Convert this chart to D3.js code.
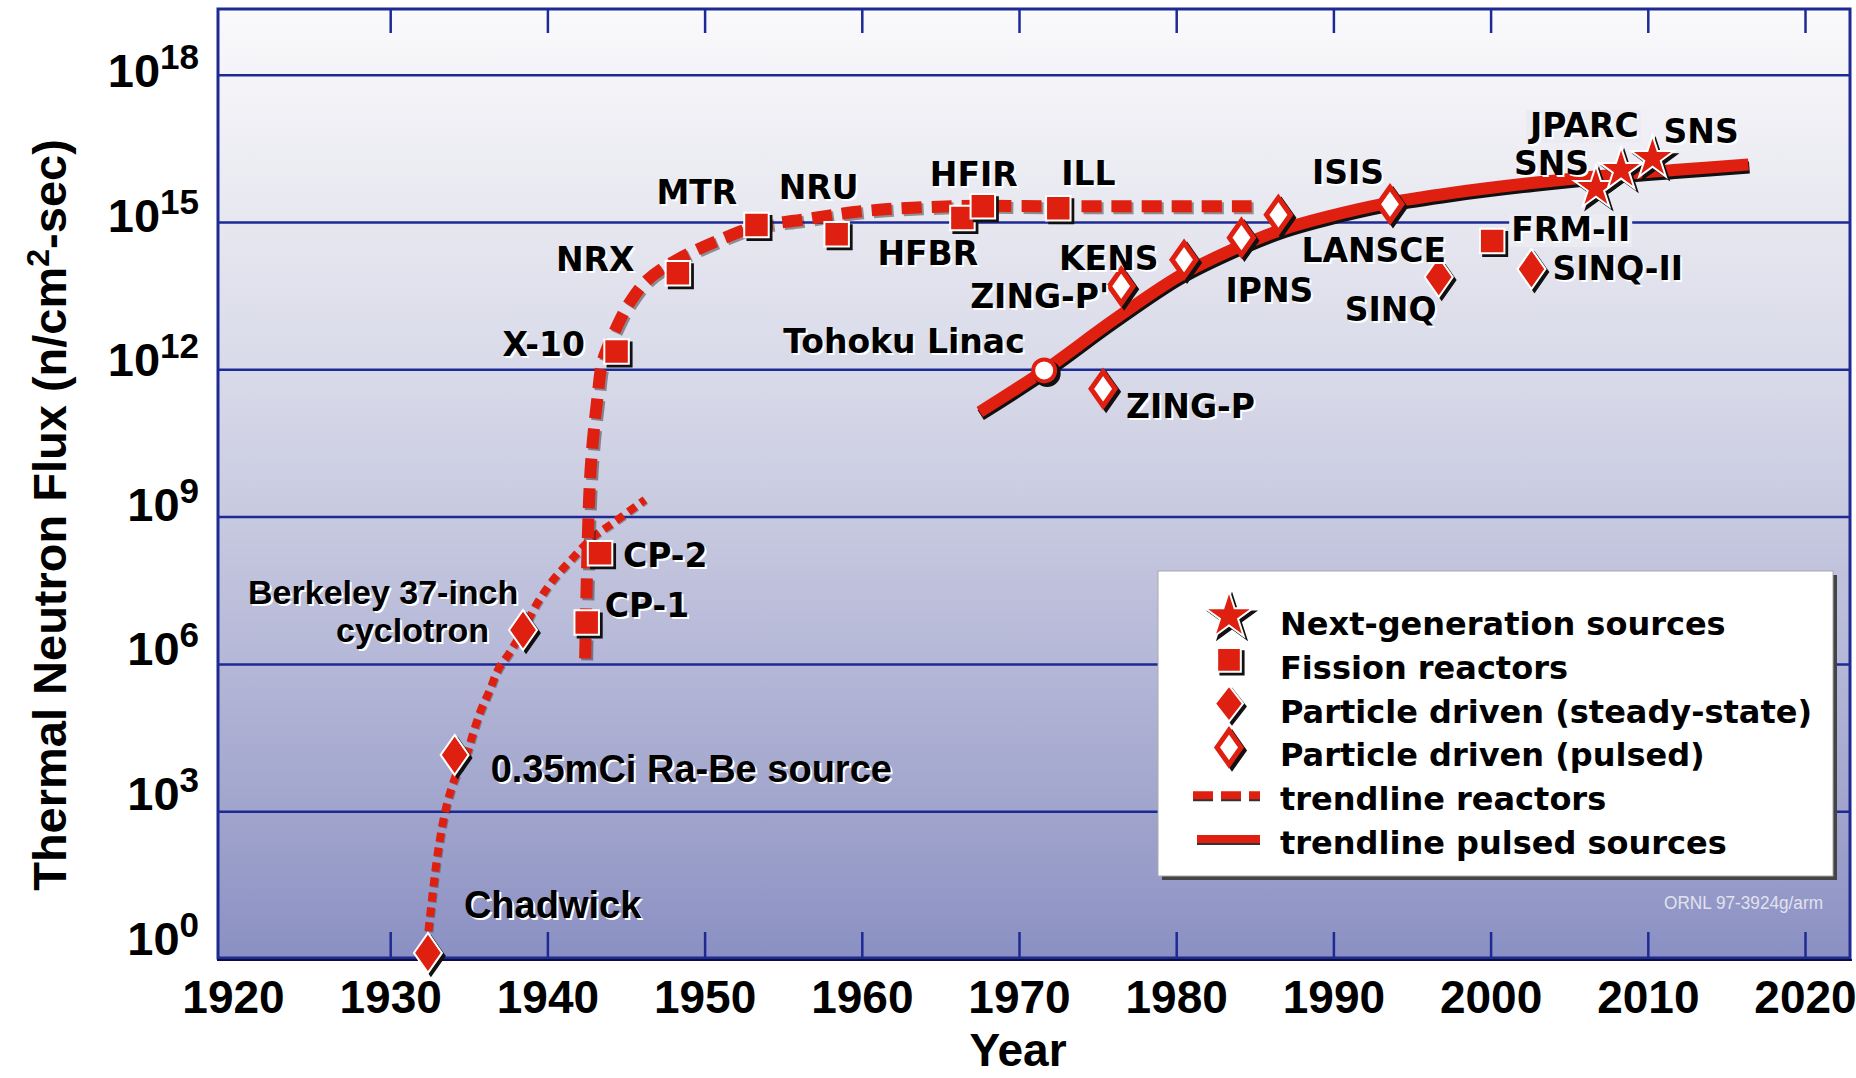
<!DOCTYPE html>
<html>
<head>
<meta charset="utf-8">
<script src="https://cdn.jsdelivr.net/npm/d3@7"></script>
<style>
  body { margin: 0; background: #fff; }
  svg text { font-weight: bold; }
</style>
</head>
<body>
<div id="chart"></div>
<script>
// ---------- values ----------
const xTicks = [1920, 1930, 1940, 1950, 1960, 1970, 1980, 1990, 2000, 2010, 2020];
const yTickExponents = [0, 3, 6, 9, 12, 15, 18];

// individual sources
const sourceNames = ["Chadwick", "0.35mCi Ra-Be source", "Berkeley 37-inch\ncyclotron", "CP-1", "CP-2",
  "X-10", "NRX", "MTR", "NRU", "HFBR", "HFIR", "ILL", "Tohoku Linac", "ZING-P", "ZING-P'", "KENS",
  "IPNS", "LANSCE", "ISIS", "SINQ", "FRM-II", "SINQ-II", "SNS", "JPARC", "SNS"];
const sourceYears = [1932.4, 1934.1, 1938.45, 1942.5, 1943.35,
  1944.4, 1948.3, 1953.3, 1958.4, 1966.4, 1967.7, 1972.5, 1971.6, 1975.35, 1976.5, 1980.5,
  1984.15, 1986.5, 1993.6, 1996.7, 2000.1, 2002.6, 2006.7, 2008.3, 2010.3];
const sourceFlux = [1.3, 1.4e4, 4.9e6, 7e6, 1.8e8,
  2.3e12, 9e13, 8.7e14, 5.6e14, 1.2e15, 2.1e15, 1.9e15, 9.5e11, 4e11, 4.9e13, 1.7e14,
  4.8e14, 1.4e15, 2.3e15, 7.6e13, 4.1e14, 1.1e14, 4.9e15, 1.15e16, 2e16];
const sourceTypes = ["steady", "steady", "steady", "fission", "fission",
  "fission", "fission", "fission", "fission", "fission", "fission", "fission", "linac", "pulsed", "pulsed", "pulsed",
  "pulsed", "pulsed", "pulsed", "steady", "fission", "steady", "star", "star", "star"];

// trendlines
const reactorTrendYears = [1942.4, 1942.65, 1942.85, 1943.2, 1943.5, 1944.4, 1945.2, 1946.3, 1948.1,
  1951.3, 1953.3, 1956.1, 1960.4, 1966.1, 1971.7, 1984.8];
const reactorTrendFlux = [1.3e6, 2.2e9, 2.5e10, 2.9e11, 1.4e12, 7.2e12, 2.2e13, 6.3e13, 1.6e14,
  4.8e14, 8.1e14, 1.1e15, 1.7e15, 2.1e15, 2.1e15, 2.1e15];

const earlyTrendYears = [1932.43, 1933.04, 1933.6, 1934.2, 1934.9, 1935.2, 1935.7, 1936.35, 1936.86,
  1937.6, 1938.45, 1939.34, 1940.36, 1941.63, 1942.9, 1944.17, 1946.2];
const earlyTrendFlux = [3.6, 1.5e2, 1.35e3, 5.5e3, 1.55e4, 3.2e4, 1e5, 3e5, 7.6e5,
  1.7e6, 4.9e6, 1.7e7, 5.1e7, 1.45e8, 3.8e8, 7.4e8, 2.2e9];

const pulsedTrendYears = [1967.5, 1971.6, 1976.0, 1980.24, 1984.06, 1986.83, 1989.5, 1993.5, 1997.5,
  2002.76, 2008.1, 2012.1, 2016.4];
const pulsedTrendFlux = [1.35e11, 9.5e11, 1e13, 8.1e13, 3.2e14, 7.2e14, 1.26e15, 2.45e15, 3.9e15,
  6.3e15, 9.3e15, 1.17e16, 1.48e16];

// legend
const legendLabels = ["Next-generation sources", "Fission reactors", "Particle driven (steady-state)",
  "Particle driven (pulsed)", "trendline reactors", "trendline pulsed sources"];
const legendKinds = ["star", "fission", "steady", "pulsed", "dash", "solid"];

// ---------- layout (pixels) ----------
const W = 1856, H = 1078;
const plot = {left: 218, right: 1850, top: 9, bottom: 958};
const RED = "#df2010", GRID = "#1e2a94";

// label offsets from each marker: [dx, dy] of text start / baseline, one pair per line
const labelOffsets = [[[36, -35]], [[36, 27]], [[-275, -26], [-187, 12]], [[18, -5]], [[23, 14]],
  [[-114, 4]], [[-122, -2]], [[-100, -21]], [[-58, -35]], [[-85, 47]], [[-53, -20]], [[3, -23]],
  [[-261, -17]], [[23, 29]], [[-151, 22]], [[-125, 10]], [[-16, 64]], [[23, 47]], [[-78, -20]],
  [[-94, 44]], [[19, 0]], [[21, 11]], [[-82, -13]], [[-91, -33]], [[11, -15]]];
const arialLabels = {0: 38, 1: 38, 2: 34};   // index -> font size (Liberation Sans)
const boxedLabels = [20, 23];                // labels drawn on a light box

// ---------- scales ----------
let x = d3.scaleLinear().domain([1920, 2020]).range([233, 1805]);
let y = d3.scaleLog().domain([1, 1e18]).range([958.5, 74.7]);

let svg = d3.select("#chart").append("svg")
  .attr("width", W).attr("height", H)
  .style("display", "block");

// background gradient of the plot area
let defs = svg.append("defs");
let grad = defs.append("linearGradient").attr("id", "bg")
  .attr("x1", 0).attr("y1", 0).attr("x2", 0).attr("y2", 1);
[[0, "#fafafc"], [0.2, "#e9e9f1"], [0.38, "#d9dae9"], [0.54, "#c7c9e0"],
 [0.7, "#b3b6d6"], [0.85, "#a0a4cc"], [1, "#8a90c3"]].forEach(s => {
  grad.append("stop").attr("offset", s[0]).attr("stop-color", s[1]);
});

svg.append("rect")
  .attr("x", plot.left).attr("y", plot.top)
  .attr("width", plot.right - plot.left).attr("height", plot.bottom - plot.top)
  .attr("fill", "url(#bg)");

// horizontal grid lines
svg.append("g")
  .attr("class", "grid")
  .attr("transform", "translate(" + plot.left + ",0)")
  .call(d3.axisLeft(y)
    .tickValues(yTickExponents.filter(k => k > 0).map(k => Math.pow(10, k)))
    .tickSizeInner(-(plot.right - plot.left)).tickSizeOuter(0).tickFormat(""))
  .call(g => g.select(".domain").remove())
  .call(g => g.selectAll("line").attr("stroke", GRID).attr("stroke-width", 2.5));

// top and bottom ticks
svg.append("g")
  .attr("transform", "translate(0," + plot.top + ")")
  .call(d3.axisTop(x).tickValues(xTicks.slice(1)).tickSizeInner(-24).tickSizeOuter(0).tickFormat(""))
  .call(g => g.select(".domain").remove())
  .call(g => g.selectAll("line").attr("stroke", GRID).attr("stroke-width", 2.5));

let xAxis = svg.append("g")
  .attr("transform", "translate(0," + plot.bottom + ")")
  .call(d3.axisBottom(x).tickValues(xTicks).tickSizeInner(-26).tickSizeOuter(0).tickPadding(22)
    .tickFormat(d3.format("d")))
  .call(g => g.select(".domain").remove());
xAxis.selectAll("line").attr("stroke", GRID).attr("stroke-width", 2.5);
xAxis.selectAll("line").filter(d => d === 1920).remove();
xAxis.selectAll("text")
  .attr("fill", "#000")
  .style("font-family", "'Liberation Sans', Arial, sans-serif")
  .style("font-size", "46px");

// plot border
svg.append("rect")
  .attr("x", plot.left).attr("y", plot.top)
  .attr("width", plot.right - plot.left).attr("height", plot.bottom - plot.top)
  .attr("fill", "none").attr("stroke", GRID).attr("stroke-width", 3);
svg.append("line")
  .attr("x1", plot.left - 1).attr("x2", plot.right + 2)
  .attr("y1", plot.bottom + 2).attr("y2", plot.bottom + 2)
  .attr("stroke", "#0a0f40").attr("stroke-width", 2);

// y tick labels: 10^k
let yLabels = svg.append("g").attr("class", "y-labels")
  .style("font-family", "'Liberation Sans', Arial, sans-serif");
yTickExponents.forEach(k => {
  let t = yLabels.append("text")
    .attr("x", 199)
    .attr("y", y(Math.pow(10, k)) - 4 + 0.93 * k)
    .attr("text-anchor", "end");
  t.append("tspan").style("font-size", "47px").text("10");
  t.append("tspan").style("font-size", "35px").attr("dy", -18).text(k);
});

// axis titles
svg.append("text")
  .attr("x", 1018).attr("y", 1066)
  .attr("text-anchor", "middle")
  .style("font-family", "'Liberation Sans', Arial, sans-serif")
  .style("font-size", "46px")
  .text("Year");

let yTitle = svg.append("text")
  .attr("transform", "translate(66,515) rotate(-90)")
  .attr("text-anchor", "middle")
  .style("font-family", "'Liberation Sans', Arial, sans-serif")
  .style("font-size", "47px");
yTitle.append("tspan").text("Thermal Neutron Flux (n/cm");
yTitle.append("tspan").attr("dy", -17).style("font-size", "32px").text("2");
yTitle.append("tspan").attr("dy", 17).text("-sec)");

// ---------- trendlines ----------
let line = d3.line()
  .x(d => x(d[0]))
  .y(d => y(d[1]))
  .curve(d3.curveCatmullRom.alpha(0.5));

let reactorTrend = d3.zip(reactorTrendYears, reactorTrendFlux);
let earlyTrend = d3.zip(earlyTrendYears, earlyTrendFlux);
let pulsedTrend = d3.zip(pulsedTrendYears, pulsedTrendFlux);

let trends = svg.append("g").attr("class", "trends");

trends.append("path").datum(earlyTrend)
  .attr("transform", "translate(1,1)")
  .attr("d", line).attr("fill", "none").attr("opacity", 0.35)
  .attr("stroke", "#222").attr("stroke-width", 8).attr("stroke-dasharray", "9 6");
trends.append("path").datum(earlyTrend)
  .attr("d", line).attr("fill", "none")
  .attr("stroke", RED).attr("stroke-width", 8).attr("stroke-dasharray", "9 6");

trends.append("path").datum(reactorTrend)
  .attr("transform", "translate(2,2)")
  .attr("d", line).attr("fill", "none").attr("opacity", 0.45)
  .attr("stroke", "#222").attr("stroke-width", 12).attr("stroke-dasharray", "20 10");
trends.append("path").datum(reactorTrend)
  .attr("d", line).attr("fill", "none")
  .attr("stroke", RED).attr("stroke-width", 12).attr("stroke-dasharray", "20 10");

trends.append("path").datum(pulsedTrend)
  .attr("transform", "translate(1,3)")
  .attr("d", line).attr("fill", "none")
  .attr("stroke", "#111").attr("stroke-width", 12);
trends.append("path").datum(pulsedTrend)
  .attr("d", line).attr("fill", "none")
  .attr("stroke", RED).attr("stroke-width", 12);

// ---------- markers ----------
function diamond(w, h) {
  return "M0," + (-h) + "L" + w + ",0L0," + h + "L" + (-w) + ",0Z";
}

function markerPath(type, big) {
  if (type === "star") return d3.symbol(d3.symbolStar, big ? 700 : 580)();
  if (type === "fission") return d3.symbol(d3.symbolSquare, big ? 560 : 600)();
  if (type === "steady") return big ? diamond(14, 18) : diamond(14, 20);
  if (type === "pulsed") return big ? diamond(12, 17) : diamond(12, 17);
  return d3.symbol(d3.symbolCircle, Math.PI * 11 * 11)();
}

function drawMarker(g, type, big) {
  let open = (type === "pulsed" || type === "linac");
  g.append("path")
    .attr("d", markerPath(type, big))
    .attr("transform", "translate(3,3)")
    .attr("fill", open ? "none" : "#111")
    .attr("stroke", "#111")
    .attr("stroke-width", open ? 5 : 1.5);
  g.append("path")
    .attr("d", markerPath(type, big))
    .attr("fill", open ? "#fff" : RED)
    .attr("stroke", open ? RED : "#fff")
    .attr("stroke-width", open ? (type === "linac" ? 4 : 5) : 2);
}

let sources = sourceNames.map((name, i) => ({
  name: name, year: sourceYears[i], flux: sourceFlux[i], type: sourceTypes[i], i: i
}));

let markers = svg.append("g").attr("class", "markers");
sources.forEach(d => {
  let g = markers.append("g")
    .attr("transform", "translate(" + x(d.year) + "," + y(d.flux) + ")");
  drawMarker(g, d.type, false);
});

// ---------- labels ----------
let labels = svg.append("g").attr("class", "labels");
sources.forEach(d => {
  let px = x(d.year), py = y(d.flux);
  let lines = d.name.split("\n");
  let arial = arialLabels[d.i];
  lines.forEach((txt, j) => {
    let off = labelOffsets[d.i][j];
    let lg = labels.append("g")
      .style("font-family", arial ? "'Liberation Sans', Arial, sans-serif" : "'DejaVu Sans', sans-serif")
      .style("font-size", (arial || 33) + "px");
    lg.append("text")
      .attr("x", px + off[0] + 2).attr("y", py + off[1] + 2)
      .attr("fill", "#fff").text(txt);
    let t = lg.append("text")
      .attr("x", px + off[0]).attr("y", py + off[1])
      .attr("fill", "#000").text(txt);
    if (boxedLabels.includes(d.i)) {
      let b = t.node().getBBox();
      lg.insert("rect", "text")
        .attr("x", b.x - 2).attr("y", b.y + 4)
        .attr("width", b.width + 4).attr("height", b.height - 6)
        .attr("fill", "#ebebf2");
    }
  });
});

// ---------- legend ----------
let legend = svg.append("g").attr("class", "legend");
legend.append("rect")
  .attr("x", 1162).attr("y", 575).attr("width", 675).attr("height", 305)
  .attr("fill", "#444");
legend.append("rect")
  .attr("x", 1158).attr("y", 571).attr("width", 675).attr("height", 305)
  .attr("fill", "#fff").attr("stroke", "#aaa").attr("stroke-width", 1);

let legendRow = d3.scaleLinear().domain([0, 5]).range([635, 854]);
legendKinds.forEach((kind, i) => {
  let by = legendRow(i);
  if (kind === "dash" || kind === "solid") {
    let ly = by - 15;
    legend.append("line")
      .attr("x1", kind === "dash" ? 1193 : 1197).attr("x2", 1260)
      .attr("y1", ly + 2).attr("y2", ly + 2)
      .attr("stroke", "#333").attr("stroke-width", 8)
      .attr("stroke-dasharray", kind === "dash" ? "20 8" : null);
    legend.append("line")
      .attr("x1", kind === "dash" ? 1193 : 1197).attr("x2", 1260)
      .attr("y1", ly).attr("y2", ly)
      .attr("stroke", RED).attr("stroke-width", 8)
      .attr("stroke-dasharray", kind === "dash" ? "20 8" : null);
  } else {
    let g = legend.append("g")
      .attr("transform", "translate(1229," + (by - 19) + ")");
    drawMarker(g, kind, true);
  }
  legend.append("text")
    .attr("x", 1280).attr("y", by)
    .style("font-family", "'DejaVu Sans', sans-serif")
    .style("font-size", "32px")
    .text(legendLabels[i]);
});

// drawing credit
svg.append("text")
  .attr("x", 1664).attr("y", 909)
  .attr("fill", "#e2e2ef")
  .attr("textLength", 159)
  .attr("lengthAdjust", "spacingAndGlyphs")
  .style("font-family", "'Liberation Sans Narrow', 'Liberation Sans', sans-serif")
  .style("font-weight", "normal")
  .style("font-size", "18px")
  .text("ORNL 97-3924g/arm");
</script>
</body>
</html>
